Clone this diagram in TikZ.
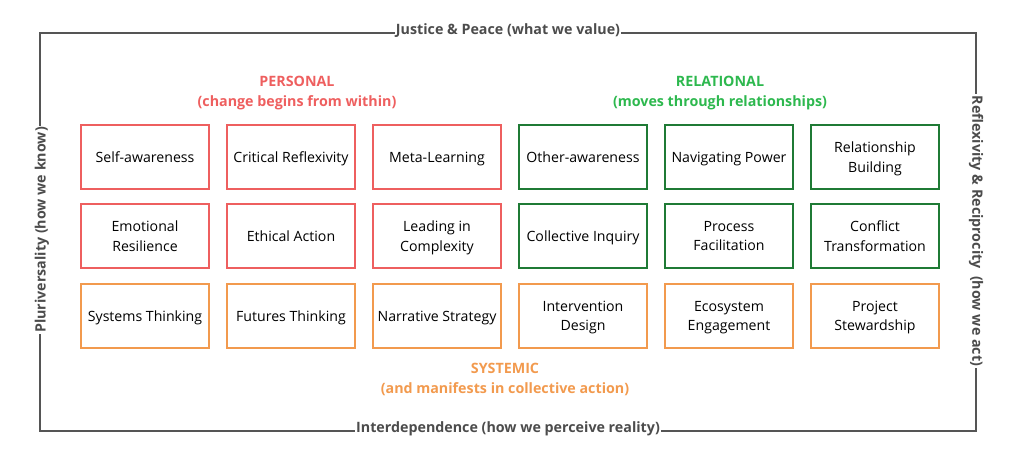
\documentclass[tikz,border=0pt]{standalone}
\usepackage{fontspec}
\setmainfont{Open Sans}
\usepackage{tikz}
\definecolor{persred}{HTML}{EE5F5F}
\definecolor{relgreen}{HTML}{1F7A35}
\definecolor{reltext}{HTML}{2DB84E}
\definecolor{sysorange}{HTML}{F29A4E}
\definecolor{framegray}{HTML}{555555}
\tikzset{card/.style={draw=#1, line width=1pt, minimum width=96pt, minimum height=48pt, inner sep=2pt, text depth=0pt, align=center, font=\fontsize{10.6}{14.5}\selectfont}}
\tikzset{heading/.style={text=#1, align=center, font=\fontsize{10.7}{15}\selectfont\bfseries}}
\tikzset{edge label/.style={fill=white, inner sep=1pt, text=framegray!90!black, font=\fontsize{10.7}{12}\selectfont\bfseries}}

\begin{document}
\begin{tikzpicture}[x=0.75pt, y=-0.75pt]
    \useasboundingbox (0, 0) rectangle (1024, 466);
    % outer frame
    \draw[framegray, line width=1pt] (40, 33) rectangle (976, 431);
    \node[edge label] (top) at (508, 31) {Justice \& Peace (what we value)};
    \node[edge label] (bottom) at (508, 429) {Interdependence (how we perceive reality)};
    \node[edge label, rotate=90] (left) at (42, 230) {Pluriversality (how we know)};
    \node[edge label, rotate=-90] (right) at (976, 231) {Reflexivity \& Reciprocity\ \ (how we act)};
    % headings
    \node[heading=persred] (personal) at (297, 93) {PERSONAL\\(change begins from within)};
    \node[heading=reltext] (relational) at (720, 93) {RELATIONAL\\(moves through relationships)};
    \node[heading=sysorange] (systemic) at (505, 379) {SYSTEMIC\\(and manifests in collective action)};
    % row one
    \node[card=persred] (selfaware) at (145, 157) {Self-awareness};
    \node[card=persred] (critical) at (291, 157) {Critical Reflexivity};
    \node[card=persred] (meta) at (437, 157) {Meta-Learning};
    \node[card=relgreen] (otheraware) at (583, 157) {Other-awareness};
    \node[card=relgreen] (power) at (729, 157) {Navigating Power};
    \node[card=relgreen] (building) at (875, 157) {Relationship\\Building};
    % row two
    \node[card=persred] (resilience) at (145, 236) {Emotional\\Resilience};
    \node[card=persred] (ethical) at (291, 236) {Ethical Action};
    \node[card=persred] (complexity) at (437, 236) {Leading in\\Complexity};
    \node[card=relgreen] (inquiry) at (583, 236) {Collective Inquiry};
    \node[card=relgreen] (facilitation) at (729, 236) {Process\\Facilitation};
    \node[card=relgreen] (conflict) at (875, 236) {Conflict\\Transformation};
    % row three
    \node[card=sysorange] (systems) at (145, 316) {Systems Thinking};
    \node[card=sysorange] (futures) at (291, 316) {Futures Thinking};
    \node[card=sysorange] (narrative) at (437, 316) {Narrative Strategy};
    \node[card=sysorange] (intervention) at (583, 316) {Intervention\\Design};
    \node[card=sysorange] (ecosystem) at (729, 316) {Ecosystem\\Engagement};
    \node[card=sysorange] (stewardship) at (875, 316) {Project\\Stewardship};
\end{tikzpicture}
\end{document}
